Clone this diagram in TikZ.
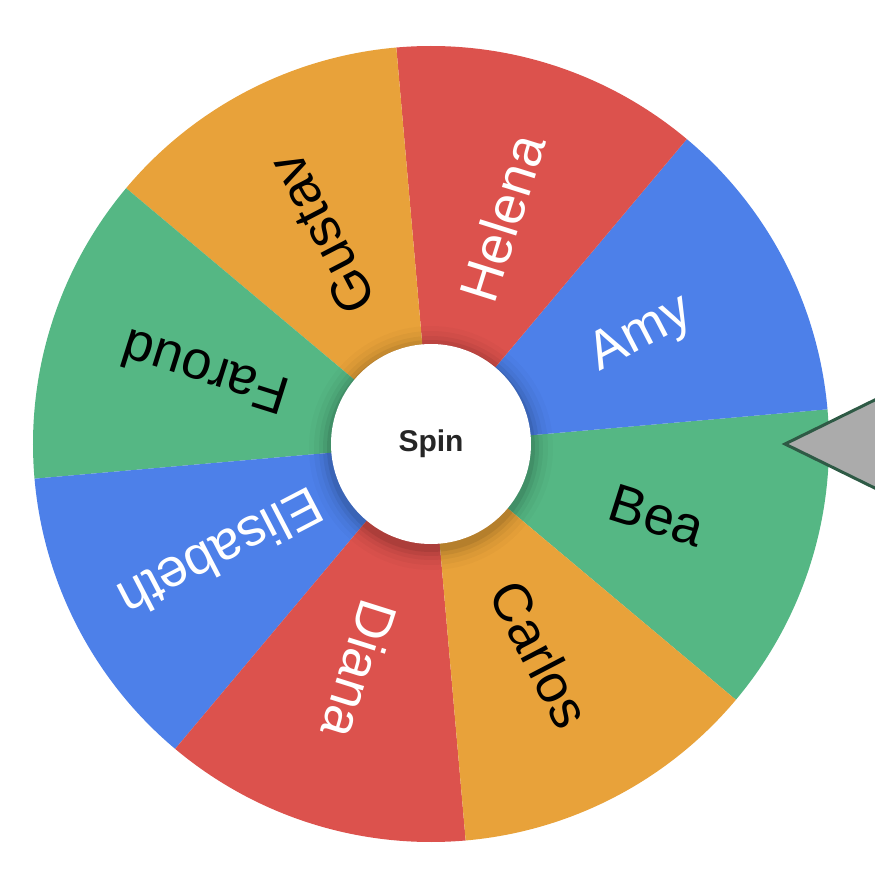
\documentclass[tikz,border=0pt]{standalone}
\usepackage{fontspec}
\setmainfont{Liberation Sans}
\begin{document}
\begin{tikzpicture}[x=1pt,y=1pt,
  lbl/.style={font=\fontsize{54}{54}\selectfont, inner sep=0pt}]
\definecolor{wg}{HTML}{55B784}
\definecolor{wb}{HTML}{4D80E9}
\definecolor{wr}{HTML}{DC524D}
\definecolor{wo}{HTML}{E8A23A}
\definecolor{pe}{HTML}{2E5A45}
\useasboundingbox (-431,-431) rectangle (444,444);
\clip (-431,-431) rectangle (444,444);
\coordinate (c) at (0,0);
\foreach \i/\col/\name/\tc in {0/wg/Bea/black,1/wb/Amy/white,2/wr/Helena/white,3/wo/Gustav/black,4/wg/Faroud/black,5/wb/Elisabeth/white,6/wr/Diana/white,7/wo/Carlos/black}{
  \pgfmathsetmacro\a{-40+45*\i}
  \pgfmathsetmacro\b{5+45*\i}
  \pgfmathsetmacro\m{-17.5+45*\i}
  \fill[\col] (c) -- (\a:398) arc[start angle=\a, end angle=\b, radius=398] -- cycle;
  \node[lbl, text=\tc, rotate=\m] (n\i) at (\m:237) {\name};
}
\foreach \r/\o in {122/0.02,117/0.03,112/0.04,108/0.06,104/0.08}{
  \fill[black, opacity=\o] (0,-4) circle (\r);
}
\node[circle, fill=white, minimum size=200pt, inner sep=0pt, font=\bfseries\fontsize{30}{30}\selectfont, text=black!85] (spin) at (c) {Spin};
\draw[fill=black!33, draw=pe, line width=3pt, line join=miter] (354,0) -- (460,52) -- (460,-52) -- cycle;
\end{tikzpicture}
\end{document}
